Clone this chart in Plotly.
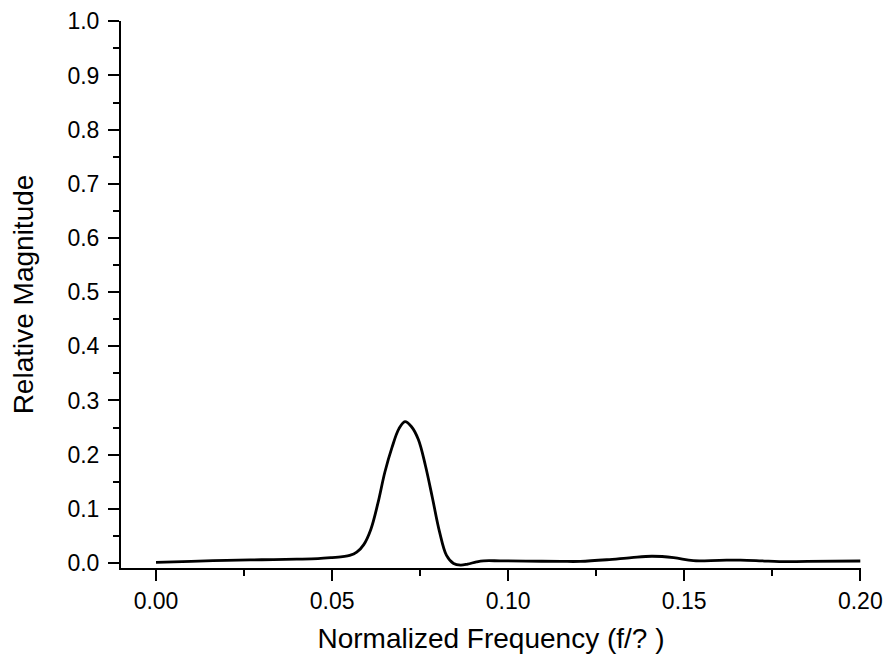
import plotly.graph_objects as go

freq = [0.0, 0.01, 0.02, 0.03, 0.04, 0.046, 0.05, 0.053, 0.055, 0.057, 0.059,
        0.061, 0.063, 0.065, 0.067, 0.069, 0.0707, 0.0725, 0.0745, 0.0765,
        0.0785, 0.0805, 0.0825, 0.0845, 0.0865, 0.0885, 0.091, 0.093, 0.0977,
        0.105, 0.115, 0.1205, 0.128, 0.135, 0.1408, 0.147, 0.1526, 0.16,
        0.166, 0.172, 0.177, 0.185, 0.2]
magnitude = [0.001, 0.003, 0.005, 0.006, 0.007, 0.008, 0.01, 0.012, 0.014, 0.02, 0.034,
             0.062, 0.11, 0.168, 0.213, 0.248, 0.261, 0.252, 0.228, 0.18,
             0.12, 0.058, 0.014, -0.001, -0.004, -0.002, 0.002, 0.004, 0.004,
             0.0035, 0.003, 0.003, 0.006, 0.01, 0.0125, 0.01, 0.0043, 0.005,
             0.0055, 0.004, 0.0025, 0.003, 0.0037]

x_ticks = [0.0, 0.05, 0.10, 0.15, 0.20]
x_labels = ["0.00", "0.05", "0.10", "0.15", "0.20"]
y_ticks = [0.0, 0.1, 0.2, 0.3, 0.4, 0.5, 0.6, 0.7, 0.8, 0.9, 1.0]
y_labels = ["0.0", "0.1", "0.2", "0.3", "0.4", "0.5", "0.6", "0.7", "0.8", "0.9", "1.0"]

fig = go.Figure()
fig.add_trace(go.Scatter(x=freq, y=magnitude, mode="lines",
                         line=dict(color="black", width=2.8, shape="spline", smoothing=1.0),
                         showlegend=False, cliponaxis=False))

font = dict(family="Liberation Sans, Arial, sans-serif", color="black")

fig.update_layout(
    width=875, height=646,
    margin=dict(l=113, r=22, t=13, b=86),
    paper_bgcolor="white", plot_bgcolor="white",
    font=font,
    xaxis=dict(
        range=[-0.00994, 0.2002], showgrid=False, zeroline=False, automargin=False,
        showline=True, linecolor="black", linewidth=2,
        ticks="outside", ticklen=11, tickwidth=2, tickcolor="black",
        tickvals=x_ticks, ticktext=x_labels, tickfont=dict(size=23),
        ticklabelstandoff=0,
        minor=dict(dtick=0.025, tick0=0, ticks="outside", ticklen=6, tickwidth=2, tickcolor="black"),
        title=dict(text="Normalized Frequency (f/? )", font=dict(size=28), standoff=18),
    ),
    yaxis=dict(
        range=[-0.0092, 1.0005], showgrid=False, zeroline=False, automargin=False,
        showline=True, linecolor="black", linewidth=2,
        ticks="outside", ticklen=11, tickwidth=2, tickcolor="black",
        tickvals=y_ticks, ticktext=y_labels, tickfont=dict(size=23),
        ticklabelstandoff=4,
        minor=dict(dtick=0.05, tick0=0, ticks="outside", ticklen=6, tickwidth=2, tickcolor="black"),
        title=dict(text="Relative Magnitude", font=dict(size=28), standoff=28),
    ),
)

fig.write_html("out.html")
